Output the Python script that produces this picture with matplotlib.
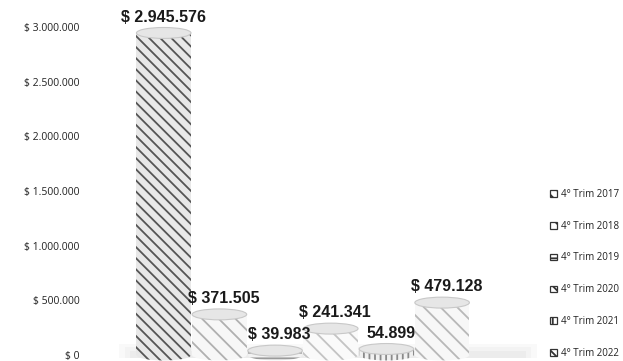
import matplotlib.pyplot as plt
import numpy as np
from matplotlib.patches import Ellipse, Rectangle

# datos del grafico
periodos = ["4° Trim 2017", "4° Trim 2018", "4° Trim 2019",
            "4° Trim 2020", "4° Trim 2021", "4° Trim 2022"]
valores = [2945576, 371505, 39983, 241341, 54899, 479128]
etiquetas = ["$ 2.945.576", "$ 371.505", "$ 39.983", "$ 241.341", "54.899", "$ 479.128"]
ticks = [0, 500000, 1000000, 1500000, 2000000, 2500000, 3000000]
tick_labels = ["$ 0", "$ 500.000", "$ 1.000.000", "$ 1.500.000",
               "$ 2.000.000", "$ 2.500.000", "$ 3.000.000"]

hatches = ["\\\\\\", "\\\\", "---", "\\\\", "|||", "\\\\"]
bordes = ["#555555", "#b0b0b0", "#9a9a9a", "#c4c4c4", "#8a8a8a", "#b8b8b8"]
caras = ["#e8e8e8", "#f7f7f7", "#f2f2f2", "#fafafa", "#f0f0f0", "#f7f7f7"]

plt.rcParams['hatch.linewidth'] = 1.3

W, H = 623, 361
fig = plt.figure(figsize=(W / 100, H / 100), dpi=100)
# $0 cerca de y=355px, $3.000.000 en y=27px
ymax = 3100000
alto = 328 * ymax / 3000000
ax = fig.add_axes([88 / W, (H - 355) / H, 402 / W, alto / H])
ax.set_xlim(-1.36, 5.86)
ax.set_ylim(0, ymax)

# sombra del piso
for k, a in enumerate([0.15, 0.2, 0.3]):
    ax.add_patch(Rectangle((-0.8 + k * 0.1, -25000), 7.5 - k * 0.2, 130000 - k * 35000,
                           facecolor="#dcdcdc", edgecolor="none", alpha=a,
                           zorder=0, clip_on=False))

x = np.arange(len(valores))
ancho = 0.98
eh = 100000  # alto de la elipse del cilindro
for i, v in enumerate(valores):
    # base redondeada
    ax.add_patch(Ellipse((x[i], 0), ancho, eh, facecolor=caras[i],
                         edgecolor=bordes[i], hatch=hatches[i], lw=0,
                         zorder=2, clip_on=False))
    ax.bar(x[i], v, width=ancho, color=caras[i], edgecolor=bordes[i],
           hatch=hatches[i], linewidth=0, zorder=3)
    # tapa
    ax.add_patch(Ellipse((x[i], v), ancho, eh, facecolor="#e6e6e6",
                         edgecolor="#c8c8c8", lw=0.8, zorder=4, clip_on=False))
    ax.annotate(etiquetas[i], (x[i], v), xytext=(3 if i else 0, 6),
                textcoords="offset points", ha="center", va="bottom",
                fontsize=11.5, fontweight="bold", family="Liberation Sans",
                color="#1a1a1a", zorder=6, annotation_clip=False)

ax.set_yticks(ticks)
ax.set_yticklabels(tick_labels, fontsize=7.5, color="#222222", family="Open Sans")
ax.tick_params(axis="y", length=0, pad=6)
ax.set_xticks([])
for s in ax.spines.values():
    s.set_visible(False)

# leyenda
handles = [Rectangle((0, 0), 1, 1, facecolor="white", edgecolor="#333333",
                     hatch=hatches[i], lw=0.9) for i in range(len(periodos))]
leg = fig.legend(handles, periodos, loc="lower left",
                 bbox_to_anchor=(545 / W, -3 / H), frameon=False,
                 prop={"family": "Open Sans", "size": 7},
                 handlelength=0.7, handleheight=0.7, handletextpad=0.4,
                 labelspacing=2.15, borderpad=0)
for t in leg.get_texts():
    t.set_color("#222222")

fig.savefig("out.png", dpi=100)
